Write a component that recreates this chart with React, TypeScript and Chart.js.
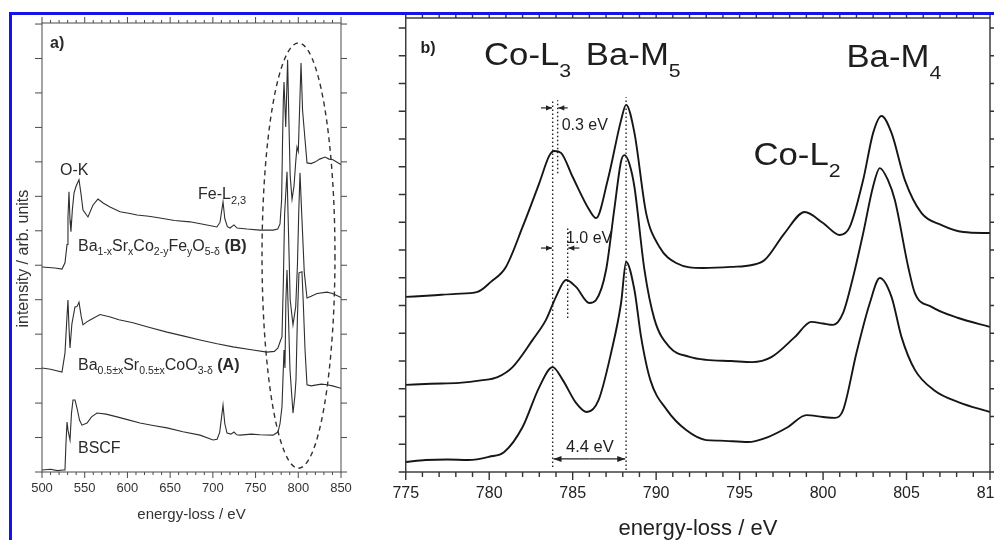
import React, { useEffect, useRef } from "react";
import { Chart, registerables } from "chart.js";
Chart.register(...registerables);

const FONT = '"Liberation Sans", Arial, Helvetica, sans-serif';
Chart.defaults.font.family = FONT;

// ---------------- Panel a data (energy-loss eV, intensity arb. units) ----------------
const aTickValues = [500, 550, 600, 650, 700, 750, 800, 850];

const aEnergyB = [500, 515, 523.4, 526.9, 529.3, 530.4, 531.6, 532.8, 533.9, 535.5, 537.5, 540, 543.3, 545.5, 548, 553.8, 559.7, 565.5, 572, 579.6, 591.3, 603, 611.2, 625, 638.1, 655, 673.2, 690, 704.8, 708.4, 711.9, 714, 717, 720.1, 724.7, 728.3, 740, 755, 770.4, 776, 778.6, 780.5, 781.5, 782.5, 783.3, 785.3, 787.5, 789, 790.5, 792.7, 795, 797, 798.5, 800, 801.5, 803.2, 805, 807.9, 810.2, 815, 820, 825, 831.3, 836, 840.6, 848.8, 850];
const aIntensityB = [5.95, 5.92, 5.89, 6.07, 6.6, 7.4, 8.13, 7.3, 6.97, 7.6, 8.1, 8.3, 8.48, 8.1, 7.6, 7.4, 7.75, 7.92, 7.8, 7.69, 7.55, 7.5, 7.46, 7.42, 7.37, 7.3, 7.26, 7.18, 7.11, 7.25, 7.84, 7.35, 7.12, 7.08, 7.17, 7.08, 7.05, 7.02, 7.02, 7.05, 7.2, 7.9, 9.5, 10.8, 11.32, 10.01, 11.96, 10.2, 8.6, 7.91, 8.3, 9.0, 9.43, 9.3, 10.5, 11.87, 10.5, 9.64, 8.97, 8.95, 9.0, 9.08, 9.14, 9.08, 9.06, 8.94, 8.92];

const aEnergyA = [500, 510, 523.4, 526.9, 529, 530.4, 531.6, 532.8, 535, 538.6, 541, 543.3, 546, 548, 552, 556.2, 567.9, 580, 590, 606.5, 625, 646.3, 665, 685, 705, 723.6, 745, 763.4, 772, 776.2, 779, 780.9, 782.5, 784, 786.8, 788.5, 790.5, 793.8, 797, 799, 800.5, 802, 804, 807, 810.2, 815, 822, 833.6, 840, 848.8, 850];
const aIntensityA = [3.02, 2.98, 2.9, 3.45, 4.4, 4.99, 4.2, 3.6, 4.3, 4.79, 4.8, 4.93, 4.5, 4.27, 4.35, 4.41, 4.57, 4.5, 4.42, 4.33, 4.2, 4.06, 3.95, 3.83, 3.72, 3.63, 3.55, 3.48, 3.5, 3.6, 3.8, 3.92, 5.5, 7.5, 8.71, 7.0, 5.0, 4.27, 4.8, 6.0, 7.5, 8.68, 7.5, 5.8, 5.05, 5.1, 5.18, 5.22, 5.18, 5.08, 5.06];

const aEnergyBSCF = [500, 510, 518, 524.6, 526.9, 528, 529.3, 530.5, 532.8, 534.5, 536.3, 538.6, 541, 544, 546.8, 552.7, 558, 564.4, 575, 587.8, 600, 614.7, 630, 646.3, 665, 685, 700.2, 705, 708, 711.9, 714, 716.6, 721.2, 724.7, 728, 731.8, 745, 755, 770.4, 776.2, 778.6, 780.9, 782.5, 783.3, 784.4, 785.5, 786.8, 788.5, 790.3, 793.8, 796, 797.3, 799, 800.8, 804.3, 806, 807.9, 810.2, 815, 820, 827, 833.6, 840, 848.8, 850];
const aIntensityBSCF = [0.06, 0.08, 0.04, 0.06, 0.06, 0.8, 1.45, 1.2, 0.93, 1.7, 2.09, 2.09, 1.85, 1.5, 1.36, 1.42, 1.6, 1.71, 1.68, 1.6, 1.52, 1.42, 1.35, 1.28, 1.17, 1.07, 0.93, 0.95, 1.15, 1.94, 1.4, 1.13, 1.1, 1.16, 1.08, 1.07, 1.1, 1.08, 1.07, 1.16, 1.4, 1.89, 3.0, 3.54, 3.02, 5.0, 5.86, 4.5, 2.96, 1.71, 2.2, 2.67, 4.5, 5.78, 5.81, 4.8, 3.54, 2.53, 2.5, 2.52, 2.55, 2.53, 2.5, 2.44, 2.43];

// ---------------- Panel b data ----------------
const bTickValues = [775, 780, 785, 790, 795, 800, 805, 810];

const bEnergyTop = [775, 776.5, 778, 779.3, 780.1, 781, 782, 783, 783.6, 783.9, 784.3, 785, 786, 786.4, 787.1, 787.9, 788.2, 788.7, 789.4, 790.2, 791.2, 792.8, 794.5, 795.75, 796.5, 797.7, 798.9, 800, 801, 801.6, 802.4, 803, 803.5, 804.1, 804.9, 805.9, 807.1, 808.4, 810];
const bIntensityTop = [6.31, 6.36, 6.42, 6.49, 6.85, 7.39, 8.83, 10.41, 11.4, 11.57, 11.5, 10.63, 9.44, 9.15, 10.52, 12.68, 13.23, 12.22, 9.33, 8.11, 7.53, 7.35, 7.39, 7.46, 7.64, 8.61, 9.37, 8.97, 8.54, 8.83, 10.52, 12.22, 12.83, 12.22, 10.52, 9.33, 8.9, 8.65, 8.61];

const bEnergyMid = [775, 776.5, 778.2, 779.5, 780.5, 781.4, 782.6, 783.4, 784, 784.6, 785.2, 786, 786.4, 787, 787.5, 787.9, 788.1, 788.4, 788.7, 789.3, 789.9, 790.8, 792, 793, 794.5, 795.75, 796.9, 798.3, 799.3, 800, 800.6, 801.2, 801.8, 802.4, 803, 803.4, 803.9, 804.3, 805.1, 805.5, 806.5, 808.1, 810];
const bIntensityMid = [3.14, 3.18, 3.21, 3.3, 3.42, 3.78, 4.76, 5.48, 6.31, 6.92, 6.67, 6.09, 6.2, 7.28, 9.5, 11.2, 11.42, 11.1, 10.27, 7.28, 5.5, 4.5, 4.15, 4.04, 4.0, 3.96, 4.14, 4.86, 5.41, 5.35, 5.3, 5.73, 7.03, 8.6, 10.3, 10.95, 10.5, 9.8, 7.39, 6.45, 5.95, 5.55, 5.23];

const bEnergyBot = [775, 776.2, 777.5, 778.75, 780, 780.9, 782, 783, 783.8, 784.4, 785.2, 785.85, 786.55, 787.3, 787.9, 788.2, 788.7, 789.1, 789.65, 790.65, 791.8, 793, 793.8, 795.5, 796.7, 797.9, 799, 800, 800.7, 801.2, 802, 802.8, 803.4, 804.1, 804.7, 805.5, 806.65, 808.1, 810];
const bIntensityBot = [0.36, 0.43, 0.45, 0.43, 0.55, 0.72, 1.62, 3.06, 3.78, 3.32, 2.49, 2.16, 2.59, 4.29, 6.09, 7.57, 6.56, 4.86, 3.32, 2.23, 1.51, 1.15, 1.13, 1.08, 1.26, 1.62, 2.05, 1.98, 1.95, 2.23, 4.29, 6.09, 6.99, 6.31, 4.86, 3.68, 2.95, 2.52, 2.16];

// ---------------- helpers ----------------
type Seg = { t: string; sub?: boolean; bold?: boolean };
type RichLabel = { x: number; y: number; segs: Seg[]; size: number; subSize: number; subDy: number; stretch?: number; bold?: boolean };

const pts = (xs: number[], ys: number[]) => xs.map((x, i) => ({ x, y: ys[i] }));

function drawRich(ctx: CanvasRenderingContext2D, px: number, py: number, lab: RichLabel, color: string) {
  ctx.save();
  ctx.translate(px, py);
  ctx.scale(lab.stretch ?? 1, 1);
  ctx.fillStyle = color;
  ctx.textAlign = "left";
  ctx.textBaseline = "alphabetic";
  let cx = 0;
  for (const s of lab.segs) {
    const size = s.sub ? lab.subSize : lab.size;
    ctx.font = `${s.bold || lab.bold ? "bold " : ""}${size}px ${FONT}`;
    ctx.fillText(s.t, cx, s.sub ? lab.subDy : 0);
    cx += ctx.measureText(s.t).width;
  }
  ctx.restore();
}

type FrameCfg = { color: string; lw: number; ticks: number[]; xMinor: number; topMaj: number; topMin: number; botMaj: number; botMin: number; left: number; right: number };

function framePlugin(id: string, f: FrameCfg) {
  return {
    id,
    afterDraw(chart: any) {
      const { ctx, chartArea: a, scales } = chart;
      const x = scales.x, y = scales.y;
      ctx.save();
      ctx.strokeStyle = f.color;
      ctx.lineWidth = f.lw;
      ctx.strokeRect(a.left, a.top, a.right - a.left, a.bottom - a.top);
      ctx.beginPath();
      for (let v = x.min; v <= x.max + 1e-6; v += f.xMinor) {
        const major = f.ticks.some((t) => Math.abs(t - v) < 1e-6);
        const p = x.getPixelForValue(v);
        ctx.moveTo(p, a.bottom);
        ctx.lineTo(p, a.bottom + (major ? f.botMaj : f.botMin));
        ctx.moveTo(p, a.top);
        ctx.lineTo(p, a.top - (major ? f.topMaj : f.topMin));
      }
      for (let v = 0; v <= y.max + 1e-6; v += 1) {
        const p = y.getPixelForValue(v);
        ctx.moveTo(a.left, p);
        ctx.lineTo(a.left - f.left, p);
        ctx.moveTo(a.right, p);
        ctx.lineTo(a.right + f.right, p);
      }
      ctx.stroke();
      ctx.restore();
    },
  };
}

function arrow(ctx: CanvasRenderingContext2D, x1: number, y: number, x2: number, head = 6, hw = 2.6) {
  ctx.beginPath();
  ctx.moveTo(x1, y);
  ctx.lineTo(x2, y);
  ctx.stroke();
  const d = Math.sign(x2 - x1);
  ctx.beginPath();
  ctx.moveTo(x2, y);
  ctx.lineTo(x2 - d * head, y - hw);
  ctx.lineTo(x2 - d * head, y + hw);
  ctx.closePath();
  ctx.fill();
}

// ---------------- Panel a annotations ----------------
const aEllipse = { cx: 800.25, cy: 6.28, rx: 42.7, ry: 6.17 };
const aLabels: RichLabel[] = [
  { x: 509.4, y: 12.31, segs: [{ t: "a)" }], size: 16, subSize: 11, subDy: 4, bold: true },
  { x: 521.1, y: 8.62, segs: [{ t: "O-K" }], size: 16, subSize: 11, subDy: 4 },
  { x: 682.6, y: 7.92, segs: [{ t: "Fe-L" }, { t: "2,3", sub: true }], size: 16, subSize: 11, subDy: 5 },
  {
    x: 542.1, y: 6.42, size: 16, subSize: 10.5, subDy: 4,
    segs: [{ t: "Ba" }, { t: "1-x", sub: true }, { t: "Sr" }, { t: "x", sub: true }, { t: "Co" }, { t: "2-y", sub: true }, { t: "Fe" }, { t: "y", sub: true }, { t: "O" }, { t: "5-δ", sub: true }, { t: " " }, { t: "(B)", bold: true }],
  },
  {
    x: 542.1, y: 2.96, size: 16, subSize: 10.5, subDy: 4,
    segs: [{ t: "Ba" }, { t: "0.5±x", sub: true }, { t: "Sr" }, { t: "0.5±x", sub: true }, { t: "CoO" }, { t: "3-δ", sub: true }, { t: " " }, { t: "(A)", bold: true }],
  },
  { x: 542.1, y: 0.55, segs: [{ t: "BSCF" }], size: 16, subSize: 11, subDy: 4 },
];

const annotA = {
  id: "annotA",
  afterDatasetsDraw(chart: any) {
    const { ctx, scales: { x, y } } = chart;
    ctx.save();
    const cx = x.getPixelForValue(aEllipse.cx);
    const cy = y.getPixelForValue(aEllipse.cy);
    const rx = x.getPixelForValue(aEllipse.cx + aEllipse.rx) - cx;
    const ry = cy - y.getPixelForValue(aEllipse.cy + aEllipse.ry);
    ctx.strokeStyle = "#333";
    ctx.lineWidth = 1.4;
    ctx.setLineDash([5, 4]);
    ctx.beginPath();
    ctx.ellipse(cx, cy, rx, ry, 0, 0, Math.PI * 2);
    ctx.stroke();
    ctx.setLineDash([]);
    for (const l of aLabels) drawRich(ctx, x.getPixelForValue(l.x), y.getPixelForValue(l.y), l, "#2a2a2a");
    ctx.restore();
  },
};

// ---------------- Panel b annotations ----------------
const bDotted = [
  { x: 783.8, y1: 0.18, y2: 13.4 },
  { x: 784.1, y1: 10.77, y2: 13.4 },
  { x: 784.7, y1: 5.55, y2: 8.83 },
  { x: 788.2, y1: 0.07, y2: 13.5 },
];
const bArrows = [
  { y: 13.12, from: 783.1, to: 783.76 },
  { y: 13.12, from: 784.7, to: 784.14 },
  { y: 8.07, from: 783.1, to: 783.76 },
  { y: 8.07, from: 785.4, to: 784.74 },
];
const bDouble = { y: 0.47, from: 783.85, to: 788.15 };
const bLabels: RichLabel[] = [
  { x: 775.88, y: 15.1, segs: [{ t: "b)" }], size: 16, subSize: 11, subDy: 4, bold: true },
  { x: 779.69, y: 14.67, segs: [{ t: "Co-L" }, { t: "3", sub: true }], size: 31, subSize: 19, subDy: 12, stretch: 1.12 },
  { x: 785.79, y: 14.67, segs: [{ t: "Ba-M" }, { t: "5", sub: true }], size: 31, subSize: 19, subDy: 12, stretch: 1.12 },
  { x: 801.4, y: 14.61, segs: [{ t: "Ba-M" }, { t: "4", sub: true }], size: 31, subSize: 19, subDy: 12, stretch: 1.12 },
  { x: 795.83, y: 11.06, segs: [{ t: "Co-L" }, { t: "2", sub: true }], size: 31, subSize: 19, subDy: 12, stretch: 1.12 },
  { x: 784.34, y: 12.32, segs: [{ t: "0.3 eV" }], size: 16, subSize: 11, subDy: 4 },
  { x: 784.6, y: 8.25, segs: [{ t: "1.0 eV" }], size: 16, subSize: 11, subDy: 4 },
  { x: 784.6, y: 0.73, segs: [{ t: "4.4 eV" }], size: 16.5, subSize: 11, subDy: 4 },
];

const annotB = {
  id: "annotB",
  afterDatasetsDraw(chart: any) {
    const { ctx, scales: { x, y } } = chart;
    ctx.save();
    ctx.strokeStyle = "#222";
    ctx.fillStyle = "#222";
    ctx.lineWidth = 1.4;
    ctx.setLineDash([1.5, 2.5]);
    for (const d of bDotted) {
      const px = x.getPixelForValue(d.x);
      ctx.beginPath();
      ctx.moveTo(px, y.getPixelForValue(d.y1));
      ctx.lineTo(px, y.getPixelForValue(d.y2));
      ctx.stroke();
    }
    ctx.setLineDash([]);
    ctx.lineWidth = 1.2;
    for (const a of bArrows) arrow(ctx, x.getPixelForValue(a.from), y.getPixelForValue(a.y), x.getPixelForValue(a.to), 6, 2.6);
    const dy = y.getPixelForValue(bDouble.y);
    const dx1 = x.getPixelForValue(bDouble.from);
    const dx2 = x.getPixelForValue(bDouble.to);
    const mid = (dx1 + dx2) / 2;
    arrow(ctx, mid, dy, dx2, 8, 3);
    arrow(ctx, mid, dy, dx1, 8, 3);
    for (const l of bLabels) drawRich(ctx, x.getPixelForValue(l.x), y.getPixelForValue(l.y), l, "#1e1e1e");
    ctx.restore();
  },
};

// ---------------- configs ----------------
function configA(): any {
  const line = (xs: number[], ys: number[]) => ({
    data: pts(xs, ys), borderColor: "#2e2e2e", borderWidth: 1.1, pointRadius: 0, tension: 0, fill: false,
  });
  return {
    type: "line",
    data: { datasets: [line(aEnergyBSCF, aIntensityBSCF), line(aEnergyA, aIntensityA), line(aEnergyB, aIntensityB)] },
    options: {
      responsive: false, animation: false, events: [],
      layout: { padding: { left: 0, right: 39, top: 23, bottom: 0 } },
      plugins: { legend: { display: false }, tooltip: { enabled: false } },
      scales: {
        x: {
          type: "linear", min: 500, max: 850,
          afterBuildTicks: (s: any) => { s.ticks = aTickValues.map((v) => ({ value: v })); },
          afterFit: (s: any) => { s.height = 88; },
          grid: { display: false, drawTicks: false }, border: { display: false },
          ticks: { font: { size: 13 }, color: "#333", padding: 8.2, maxRotation: 0 },
          title: { display: true, text: "energy-loss / eV", font: { size: 15 }, color: "#333", padding: { top: 0, bottom: 36 } },
        },
        y: {
          type: "linear", min: 0, max: 13.03,
          afterFit: (s: any) => { s.width = 42; },
          grid: { display: false, drawTicks: false }, border: { display: false },
          ticks: { display: false },
          title: { display: true, text: "intensity / arb. units     ", font: { size: 16 }, color: "#333", padding: { top: 13.5, bottom: 0 } },
        },
      },
    },
    plugins: [annotA, framePlugin("frameA", { color: "#4a4a4a", lw: 1, ticks: aTickValues, xMinor: 10, topMaj: 6, topMin: 3, botMaj: 6, botMin: 3, left: 7, right: 6 })],
  };
}

function configB(): any {
  const line = (xs: number[], ys: number[]) => ({
    data: pts(xs, ys), borderColor: "#161616", borderWidth: 1.9, pointRadius: 0, cubicInterpolationMode: "monotone", fill: false,
  });
  return {
    type: "line",
    data: { datasets: [line(bEnergyBot, bIntensityBot), line(bEnergyMid, bIntensityMid), line(bEnergyTop, bIntensityTop)] },
    options: {
      responsive: false, animation: false, events: [],
      layout: { padding: { left: 0, right: 40, top: 18, bottom: 0 } },
      plugins: { legend: { display: false }, tooltip: { enabled: false } },
      scales: {
        x: {
          type: "linear", min: 775, max: 810,
          afterBuildTicks: (s: any) => { s.ticks = bTickValues.map((v) => ({ value: v })); },
          afterFit: (s: any) => { s.height = 88; },
          grid: { display: false, drawTicks: false }, border: { display: false },
          ticks: { font: { size: 16 }, color: "#222", padding: 12.4, maxRotation: 0 },
          title: { display: true, text: "energy-loss / eV", font: { size: 22 }, color: "#222", padding: { top: 0, bottom: 17.8 } },
        },
        y: {
          type: "linear", min: 0, max: 16.36,
          afterFit: (s: any) => { s.width = 13; },
          grid: { display: false, drawTicks: false }, border: { display: false },
          ticks: { display: false },
        },
      },
    },
    plugins: [annotB, framePlugin("frameB", { color: "#333", lw: 1.4, ticks: bTickValues, xMinor: 1, topMaj: 6, topMin: 3, botMaj: 8, botMin: 5, left: 7, right: 5 })],
  };
}

export default function App() {
  const refA = useRef<HTMLCanvasElement>(null);
  const refB = useRef<HTMLCanvasElement>(null);
  useEffect(() => {
    const ca = new Chart(refA.current!, configA());
    const cb = new Chart(refB.current!, configB());
    return () => {
      ca.destroy();
      cb.destroy();
    };
  }, []);
  return (
    <div style={{ position: "fixed", left: 0, top: 0, width: 994, height: 540, overflow: "hidden", background: "#fff" }}>
      <canvas ref={refA} width={380} height={560} style={{ position: "absolute", left: 0, top: 0, width: 380, height: 560 }} />
      <canvas ref={refB} width={650} height={560} style={{ position: "absolute", left: 380, top: 0, width: 650, height: 560 }} />
      <div style={{ position: "absolute", left: 9, top: 12, width: 985, height: 3, background: "#1414e6" }} />
      <div style={{ position: "absolute", left: 9, top: 12, width: 3, height: 528, background: "#1414e6" }} />
    </div>
  );
}
